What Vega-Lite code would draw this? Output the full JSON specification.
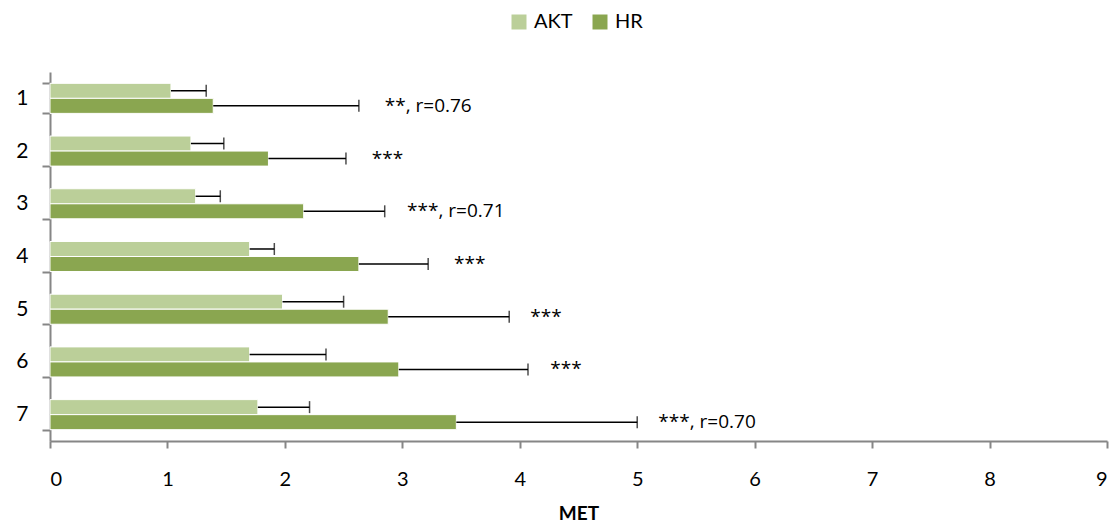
{
  "$schema": "https://vega.github.io/schema/vega-lite/v6.json",
  "width": 1057,
  "height": 369,
  "autosize": {"type": "none"},
  "padding": {"left": 50, "top": 72, "right": 12, "bottom": 86},
  "background": "white",
  "config": {
    "font": "Lato",
    "view": {"stroke": null},
    "axis": {"grid": false}
  },
  "datasets": {
    "bars": [
      {"cat": "1", "series": "AKT", "value": 1.03, "err": 1.33},
      {"cat": "1", "series": "HR", "value": 1.39, "err": 2.63},
      {"cat": "2", "series": "AKT", "value": 1.20, "err": 1.48},
      {"cat": "2", "series": "HR", "value": 1.86, "err": 2.52},
      {"cat": "3", "series": "AKT", "value": 1.24, "err": 1.45},
      {"cat": "3", "series": "HR", "value": 2.16, "err": 2.85},
      {"cat": "4", "series": "AKT", "value": 1.70, "err": 1.91},
      {"cat": "4", "series": "HR", "value": 2.63, "err": 3.22},
      {"cat": "5", "series": "AKT", "value": 1.98, "err": 2.50},
      {"cat": "5", "series": "HR", "value": 2.88, "err": 3.91},
      {"cat": "6", "series": "AKT", "value": 1.70, "err": 2.35},
      {"cat": "6", "series": "HR", "value": 2.97, "err": 4.07},
      {"cat": "7", "series": "AKT", "value": 1.77, "err": 2.21},
      {"cat": "7", "series": "HR", "value": 3.46, "err": 5.00}
    ],
    "notes": [
      {"cat": "1", "series": "HR", "pos": 2.85, "label": "**, r=0.76"},
      {"cat": "2", "series": "HR", "pos": 2.74, "label": "***"},
      {"cat": "3", "series": "HR", "pos": 3.04, "label": "***, r=0.71"},
      {"cat": "4", "series": "HR", "pos": 3.44, "label": "***"},
      {"cat": "5", "series": "HR", "pos": 4.09, "label": "***"},
      {"cat": "6", "series": "HR", "pos": 4.26, "label": "***"},
      {"cat": "7", "series": "HR", "pos": 5.18, "label": "***, r=0.70"}
    ]
  },
  "encoding": {
    "y": {
      "field": "cat",
      "type": "nominal",
      "sort": ["1", "2", "3", "4", "5", "6", "7"],
      "scale": {"paddingInner": 0.43, "paddingOuter": 0.215},
      "axis": {
        "title": null,
        "tickBand": "extent",
        "domainColor": "#868686",
        "domainWidth": 2,
        "tickColor": "#868686",
        "tickWidth": 2,
        "tickSize": 8,
        "labelFontSize": 21,
        "labelColor": "#000000",
        "labelPadding": 14,
        "labelFont": "Lato"
      }
    },
    "yOffset": {
      "field": "series",
      "type": "nominal",
      "sort": ["AKT", "HR"],
      "scale": {"paddingInner": 0, "paddingOuter": 0}
    }
  },
  "layer": [
    {
      "data": {"name": "bars"},
      "mark": {"type": "bar", "stroke": "white", "strokeWidth": 1},
      "encoding": {
        "x": {
          "field": "value",
          "type": "quantitative",
          "scale": {"domain": [0, 9], "nice": false},
          "axis": {
            "title": "MET",
            "titleFontSize": 19,
            "titleFontWeight": "bold",
            "titleColor": "#000000",
            "titlePadding": 15,
            "values": [0, 1, 2, 3, 4, 5, 6, 7, 8, 9],
            "format": "d",
            "domainColor": "#868686",
            "domainWidth": 2,
            "tickColor": "#868686",
            "tickWidth": 2,
            "tickSize": 7,
            "labelFontSize": 20,
            "labelColor": "#000000",
            "labelPadding": 21
          }
        },
        "color": {
          "field": "series",
          "type": "nominal",
          "scale": {"domain": ["AKT", "HR"], "range": ["#BBCF99", "#8AA650"]},
          "legend": {
            "title": null,
            "orient": "none",
            "direction": "horizontal",
            "legendX": 459,
            "legendY": -60,
            "symbolType": "square",
            "symbolSize": 225,
            "symbolStrokeWidth": 0,
            "labelFontSize": 20,
            "labelColor": "#000000",
            "labelOffset": 5,
            "columnPadding": 17,
            "padding": 0
          }
        }
      }
    },
    {
      "data": {"name": "bars"},
      "mark": {"type": "rule", "color": "#000000", "strokeWidth": 1.5},
      "encoding": {
        "x": {"field": "value", "type": "quantitative"},
        "x2": {"field": "err"}
      }
    },
    {
      "data": {"name": "bars"},
      "mark": {"type": "tick", "color": "#000000", "thickness": 1.5, "size": 12},
      "encoding": {
        "x": {"field": "err", "type": "quantitative"}
      }
    },
    {
      "data": {"name": "notes"},
      "mark": {"type": "text", "align": "left", "baseline": "middle", "fontSize": 19, "color": "#000000", "font": "Open Sans"},
      "encoding": {
        "x": {"field": "pos", "type": "quantitative"},
        "text": {"field": "label"}
      }
    }
  ]
}
